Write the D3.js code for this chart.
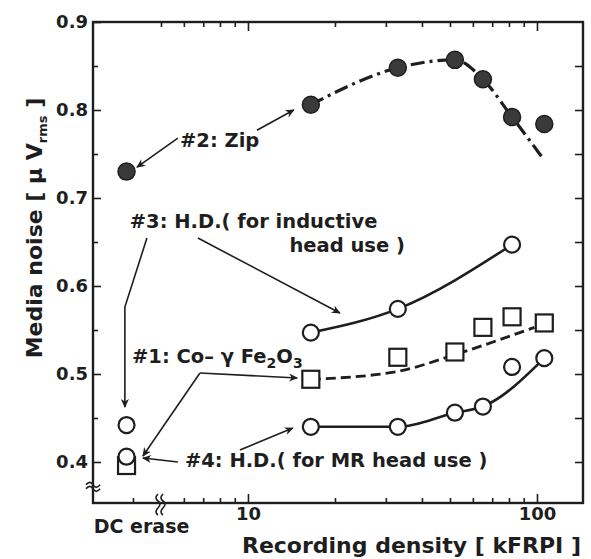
<!DOCTYPE html>
<html>
<head>
<meta charset="utf-8">
<script src="https://cdn.jsdelivr.net/npm/d3@7"></script>
<style>
body { margin: 0; background: #fff; }
text { font-family: "DejaVu Sans", "Liberation Sans", sans-serif; font-weight: bold; fill: #1e1e1e; }
</style>
</head>
<body>
<svg id="chart"></svg>
<script>
// recording density of the measured points [kFRPI]
var densities = [16.5, 33, 52, 65, 82, 106];
var dcErase = 3.8;   // where the "DC erase" column sits on the log axis

// #2: Zip (filled circles, dash-dot fit)
var zipDC = 0.73;
var zipNoise = [0.806, 0.848, 0.857, 0.835, 0.792, 0.784];
var zipFitX = [16.5, 33, 52, 65, 82, 106];
var zipFitY = [0.806, 0.848, 0.857, 0.835, 0.792, 0.743];

// #3: H.D. for inductive head use (open circles, solid)
var indDC = 0.442;
var indX = [16.5, 33, 82];
var indNoise = [0.547, 0.574, 0.647];

// #1: Co-g Fe2O3 (open squares, dashed fit)
var coDC = 0.396;
var coNoise = [0.494, 0.519, 0.525, 0.553, 0.565, 0.558];
var coFitX = [16.5, 33, 52, 98];
var coFitY = [0.494, 0.503, 0.522, 0.553];

// #4: H.D. for MR head use (open circles, solid fit)
var mrDC = 0.406;
var mrNoise = [0.440, 0.440, 0.456, 0.463, 0.508, 0.518];
var mrFitX = [16.5, 33, 52, 65, 106];
var mrFitY = [0.440, 0.440, 0.456, 0.463, 0.518];

var yMajor = [0.4, 0.5, 0.6, 0.7, 0.8, 0.9];
var yMinor = [0.45, 0.55, 0.65, 0.75, 0.85];
var xMajor = [10, 100];
var xMinorBottom = [4, 6, 7, 8, 9, 20, 30, 40, 50, 60, 70, 80, 90];
var xMinorTop = [5, 6, 7, 8, 9, 20, 30, 40, 50, 60, 70, 80, 90];

// annotation text, anchored in data units
var labels = [
  {text: "#2: Zip", x: 5.82, y: 0.758, anchor: "start"},
  {text: "#3: H.D.( for inductive", x: 3.9, y: 0.666, anchor: "start"},
  {text: "head use )", x: 34.9, y: 0.6386, anchor: "end"},
  {text: "#4: H.D.( for MR head use )", x: 6.05, y: 0.3943, anchor: "start"}
];
// arrows as polylines in data units, arrowhead at the last point
var arrows = [
  [[5.72, 0.768], [4.13, 0.735]],
  [[10.74, 0.777], [14.4, 0.800]],
  [[4.47, 0.6545], [3.75, 0.576], [3.75, 0.4625]],
  [[6.71, 0.6545], [20.8, 0.5693]],
  [[6.82, 0.5011], [4.33, 0.4068]],
  [[6.82, 0.5011], [14.8, 0.4955]],
  [[5.72, 0.400], [4.33, 0.4045]],
  [[9.38, 0.4136], [14.3, 0.4386]]
];

var margin = {top: 22, right: 8, bottom: 56, left: 93},
    W = 591, H = 559,
    width = W - margin.left - margin.right,
    height = H - margin.top - margin.bottom;

var svg = d3.select("#chart").attr("width", W).attr("height", H);

svg.append("defs").append("marker")
    .attr("id", "head")
    .attr("markerUnits", "userSpaceOnUse")
    .attr("viewBox", "0 0 10 10")
    .attr("refX", 9).attr("refY", 5)
    .attr("markerWidth", 10).attr("markerHeight", 9)
    .attr("orient", "auto")
  .append("path")
    .attr("d", "M0,0.5 L10,5 L0,9.5 L3,5 Z")
    .attr("fill", "#1e1e1e");

var g = svg.append("g")
    .attr("transform", "translate(" + margin.left + "," + margin.top + ")");

var x = d3.scaleLog().domain([2.909, 144.3]).range([0, width]);
var y = d3.scaleLinear().domain([0.3534, 0.9]).range([height, 0]);

function styleAxis(sel, size) {
  sel.select(".domain").remove();
  sel.selectAll("line").attr("stroke", "#1e1e1e").attr("stroke-width", 1.6);
  sel.selectAll("text").style("font-size", size + "px");
}

// left axis
g.append("g").call(d3.axisLeft(y).tickValues(yMajor).tickSize(-8).tickPadding(5).tickFormat(d3.format(".1f")))
  .call(styleAxis, 18);
g.append("g").call(d3.axisLeft(y).tickValues(yMinor).tickSize(-5).tickFormat(""))
  .call(styleAxis, 18);
// right axis
g.append("g").attr("transform", "translate(" + width + ",0)")
  .call(d3.axisRight(y).tickValues(yMinor.concat(yMajor.slice(0, 5))).tickSize(-8).tickFormat(""))
  .call(styleAxis, 18);
// bottom axis
g.append("g").attr("transform", "translate(0," + height + ")")
  .call(d3.axisBottom(x).tickValues(xMajor).tickSize(-9).tickPadding(4).tickFormat(d3.format("d")))
  .call(styleAxis, 18);
g.append("g").attr("transform", "translate(0," + height + ")")
  .call(d3.axisBottom(x).tickValues(xMinorBottom).tickSize(-5).tickFormat(""))
  .call(styleAxis, 18);
// top axis
g.append("g").call(d3.axisTop(x).tickValues(xMajor).tickSize(-9).tickFormat(""))
  .call(styleAxis, 18);
g.append("g").call(d3.axisTop(x).tickValues(xMinorTop).tickSize(-5).tickFormat(""))
  .call(styleAxis, 18);

// frame
g.append("rect")
    .attr("width", width).attr("height", height)
    .attr("fill", "none").attr("stroke", "#1e1e1e").attr("stroke-width", 2.4);

// axis breaks
var yb = y(0.374);
[0, 4].forEach(function(o) {
  g.append("path")
    .attr("d", "M-7," + (yb + o) + " q4,-5 7,0 t7,0")
    .attr("fill", "none").attr("stroke", "#1e1e1e").attr("stroke-width", 1.6);
});
var xb = x(5.0) - 3;
[0, 5].forEach(function(o) {
  g.append("path")
    .attr("d", "M" + (xb + o) + "," + (height - 9) + " q-4,4 0,7 t0,7 t0,7")
    .attr("fill", "none").attr("stroke", "#1e1e1e").attr("stroke-width", 1.6);
});

// fit lines
var line = d3.line()
    .x(function(d) { return x(d[0]); })
    .y(function(d) { return y(d[1]); })
    .curve(d3.curveMonotoneX);

function fit(xs, ys, dash, w) {
  g.append("path")
    .datum(xs.map(function(v, i) { return [v, ys[i]]; }))
    .attr("d", line)
    .attr("fill", "none")
    .attr("stroke", "#1e1e1e")
    .attr("stroke-width", w)
    .attr("stroke-dasharray", dash);
}
fit(zipFitX, zipFitY, "14,5,3,5", 3.2);
fit(indX, indNoise, null, 2.6);
fit(coFitX, coFitY, "10,5", 2.8);
fit(mrFitX, mrFitY, null, 2.6);

// annotation arrows
var aline = d3.line()
    .x(function(d) { return x(d[0]); })
    .y(function(d) { return y(d[1]); });
g.selectAll(".arrow")
  .data(arrows)
  .enter().append("path")
    .attr("class", "arrow")
    .attr("d", aline)
    .attr("fill", "none")
    .attr("stroke", "#1e1e1e")
    .attr("stroke-width", 1.6)
    .attr("marker-end", "url(#head)");

// markers
function pts(xs, ys) { return xs.map(function(v, i) { return [v, ys[i]]; }); }

g.selectAll(".sq")
  .data(pts([dcErase].concat(densities), [coDC].concat(coNoise)))
  .enter().append("rect")
    .attr("x", function(d) { return x(d[0]) - 8.5; })
    .attr("y", function(d) { return y(d[1]) - 8.5; })
    .attr("width", 17).attr("height", 17)
    .attr("fill", "#fff").attr("stroke", "#1e1e1e").attr("stroke-width", 2.2);

g.selectAll(".oc")
  .data(pts([dcErase].concat(indX), [indDC].concat(indNoise))
        .concat(pts([dcErase].concat(densities), [mrDC].concat(mrNoise))))
  .enter().append("circle")
    .attr("cx", function(d) { return x(d[0]); })
    .attr("cy", function(d) { return y(d[1]); })
    .attr("r", 8)
    .attr("fill", "#fff").attr("stroke", "#1e1e1e").attr("stroke-width", 2.2);

g.selectAll(".fc")
  .data(pts([dcErase].concat(densities), [zipDC].concat(zipNoise)))
  .enter().append("circle")
    .attr("cx", function(d) { return x(d[0]); })
    .attr("cy", function(d) { return y(d[1]); })
    .attr("r", 8.5)
    .attr("fill", "#3a3a3a").attr("stroke", "#1e1e1e").attr("stroke-width", 1.5);

// labels
g.selectAll(".lab")
  .data(labels)
  .enter().append("text")
    .attr("x", function(d) { return x(d.x); })
    .attr("y", function(d) { return y(d.y); })
    .attr("text-anchor", function(d) { return d.anchor; })
    .style("font-size", "19.5px")
    .text(function(d) { return d.text; });

var co = g.append("text")
    .attr("x", x(3.97)).attr("y", y(0.5125))
    .style("font-size", "19.5px");
co.append("tspan").text("#1: Co\u2013 \u03b3 Fe");
co.append("tspan").attr("dy", 5).style("font-size", "14px").text("2");
co.append("tspan").attr("dy", -5).text("O");
co.append("tspan").attr("dy", 5).style("font-size", "14px").text("3");

// DC erase label
g.append("text")
    .attr("x", x(dcErase) + 15).attr("y", height + 30)
    .attr("text-anchor", "middle")
    .style("font-size", "19px")
    .text("DC erase");

// axis titles
g.append("text")
    .attr("x", width - 2)
    .attr("y", height + 50)
    .attr("text-anchor", "end")
    .style("font-size", "22px")
    .text("Recording density [ kFRPI ]");

var yt = svg.append("text")
    .attr("transform", "translate(42," + (margin.top + 206) + ") rotate(-90)")
    .attr("text-anchor", "middle")
    .style("font-size", "22px");
yt.append("tspan").text("Media noise [ \u03bc V");
yt.append("tspan").attr("dy", 5).style("font-size", "13px").text("rms");
yt.append("tspan").attr("dy", -5).text(" ]");
</script>
</body>
</html>
